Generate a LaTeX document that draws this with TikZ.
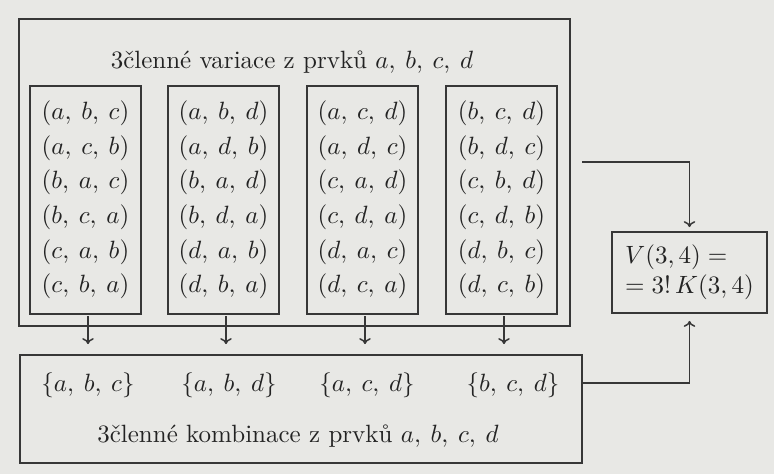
\documentclass[tikz,border=0pt]{standalone}
\usetikzlibrary{arrows.meta}
\definecolor{bgclr}{RGB}{232,232,229}
\definecolor{lineclr}{RGB}{55,55,55}
\definecolor{txtclr}{RGB}{35,35,35}
\newcommand{\tsep}{\mskip 4mu}
\begin{document}
\begin{tikzpicture}[x=0.4pt,y=-0.4pt,
  frame/.style={draw=lineclr, line width=0.7pt, inner sep=0pt},
  tuplebox/.style={frame, minimum width=44.4pt, minimum height=91.2pt, align=center, text=txtclr},
  lbl/.style={anchor=base, text=txtclr, inner sep=0pt},
  conn/.style={draw=lineclr, line width=0.6pt, -{To[length=2.4pt,width=4.6pt]}}]
\fill[bgclr] (0,0) rectangle (774,474);
\useasboundingbox (0,0) rectangle (774,474);
% outer variation box
\node[frame, minimum width=220.4pt, minimum height=122.8pt] (var) at (294.5,172.5) {};
\node[lbl] (vt) at (292,68) {3členné variace z prvků $a,\tsep b,\tsep c,\tsep d$};
% tuple boxes
\node[tuplebox] (v1) at (85.5,200) {$(a,\tsep b,\tsep c)$\\[1.84pt]$(a,\tsep c,\tsep b)$\\[1.84pt]$(b,\tsep a,\tsep c)$\\[1.84pt]$(b,\tsep c,\tsep a)$\\[1.84pt]$(c,\tsep a,\tsep b)$\\[1.84pt]$(c,\tsep b,\tsep a)$};
\node[tuplebox] (v2) at (223.5,200) {$(a,\tsep b,\tsep d)$\\[1.84pt]$(a,\tsep d,\tsep b)$\\[1.84pt]$(b,\tsep a,\tsep d)$\\[1.84pt]$(b,\tsep d,\tsep a)$\\[1.84pt]$(d,\tsep a,\tsep b)$\\[1.84pt]$(d,\tsep b,\tsep a)$};
\node[tuplebox] (v3) at (362.5,200) {$(a,\tsep c,\tsep d)$\\[1.84pt]$(a,\tsep d,\tsep c)$\\[1.84pt]$(c,\tsep a,\tsep d)$\\[1.84pt]$(c,\tsep d,\tsep a)$\\[1.84pt]$(d,\tsep a,\tsep c)$\\[1.84pt]$(d,\tsep c,\tsep a)$};
\node[tuplebox] (v4) at (501.5,200) {$(b,\tsep c,\tsep d)$\\[1.84pt]$(b,\tsep d,\tsep c)$\\[1.84pt]$(c,\tsep b,\tsep d)$\\[1.84pt]$(c,\tsep d,\tsep b)$\\[1.84pt]$(d,\tsep b,\tsep c)$\\[1.84pt]$(d,\tsep c,\tsep b)$};
% combination box
\node[frame, minimum width=224.8pt, minimum height=43.2pt] (komb) at (301,409) {};
\node[lbl] (k1) at (88,391) {$\{a,\tsep b,\tsep c\}$};
\node[lbl] (k2) at (229,391) {$\{a,\tsep b,\tsep d\}$};
\node[lbl] (k3) at (367,391) {$\{a,\tsep c,\tsep d\}$};
\node[lbl] (k4) at (513,391) {$\{b,\tsep c,\tsep d\}$};
\node[lbl] (kt) at (298,442) {3členné kombinace z prvků $a,\tsep b,\tsep c,\tsep d$};
% result box
\node[frame, minimum width=62pt, minimum height=32.4pt, align=left, text=txtclr] (vk) at (689.5,272.5) {$V(3,4) =$\\$= 3!\,K(3,4)$};
% connectors
\foreach \i in {1,2,3,4}{
  \draw[conn, shorten <=0.6pt, shorten >=4pt] ([xshift=1pt]v\i.south) -- ([xshift=1pt]v\i.south |- komb.north);
}
\coordinate (s1) at (582,162);
\coordinate (s2) at (582,383);
\draw[conn, shorten >=1.6pt] (s1) -| (vk.north);
\draw[conn, shorten >=2.8pt] (s2) -| (vk.south);
\end{tikzpicture}
\end{document}
